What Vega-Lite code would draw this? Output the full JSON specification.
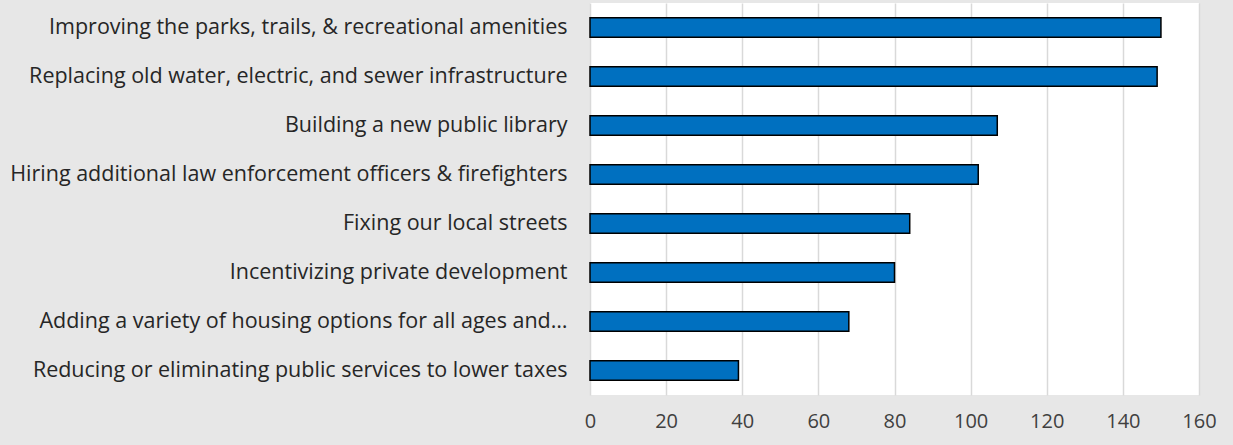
{
  "$schema": "https://vega.github.io/schema/vega-lite/v6.json",
  "autosize": "none",
  "width": 609,
  "height": 392,
  "padding": {"left": 590, "top": 3, "right": 34, "bottom": 50},
  "background": "#e7e7e7",
  "data": {
    "values": [
      {"item": "Improving the parks, trails, & recreational amenities", "count": 150},
      {"item": "Replacing old water, electric, and sewer infrastructure", "count": 149},
      {"item": "Building a new public library", "count": 107},
      {"item": "Hiring additional law enforcement officers & firefighters", "count": 102},
      {"item": "Fixing our local streets", "count": 84},
      {"item": "Incentivizing private development", "count": 80},
      {"item": "Adding a variety of housing options for all ages and…", "count": 68},
      {"item": "Reducing or eliminating public services to lower taxes", "count": 39}
    ]
  },
  "config": {
    "view": {"fill": "white", "stroke": null},
    "font": "Open Sans"
  },
  "mark": {"type": "bar", "color": "#0070c0", "stroke": "#000000", "strokeWidth": 1.5},
  "encoding": {
    "y": {
      "field": "item",
      "type": "nominal",
      "sort": null,
      "scale": {"paddingInner": 0.6, "paddingOuter": 0.3},
      "axis": {
        "title": null,
        "domain": false,
        "ticks": false,
        "labelPadding": 23,
        "labelFontSize": 21.5,
        "labelColor": "#262626",
        "labelLimit": 620,
        "labelFont": "Open Sans"
      }
    },
    "x": {
      "field": "count",
      "type": "quantitative",
      "scale": {"domain": [0, 160]},
      "axis": {
        "title": null,
        "domain": false,
        "ticks": false,
        "values": [0, 20, 40, 60, 80, 100, 120, 140, 160],
        "labelFlush": false,
        "labelPadding": 16,
        "labelFontSize": 20,
        "labelColor": "#404040",
        "gridColor": "#d9d9d9",
        "gridWidth": 1.5
      }
    }
  }
}
